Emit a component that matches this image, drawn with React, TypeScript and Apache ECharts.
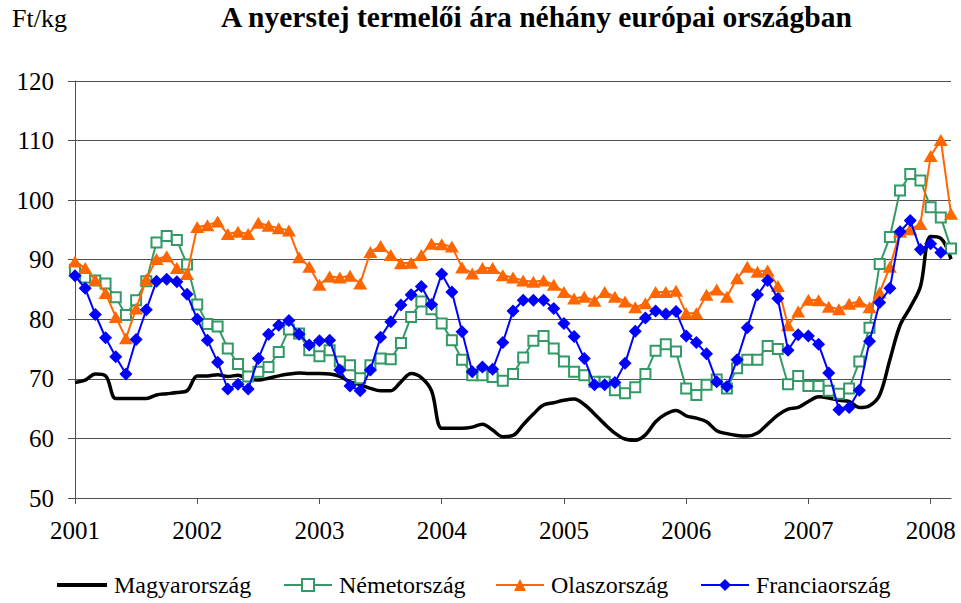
import React, { useEffect, useRef } from "react";
import * as echarts from "echarts";

const years = ["2001", "2002", "2003", "2004", "2005", "2006", "2007", "2008"];
const monthsInYear = ["01", "02", "03", "04", "05", "06", "07", "08", "09", "10", "11", "12"];
const categories: string[] = years
  .flatMap((y) => monthsInYear.map((m) => `${y}-${m}`))
  .slice(0, 87);

const seriesNames = ["Magyarország", "Németország", "Olaszország", "Franciaország"];

const hungary = [
  69.4, 69.8, 70.8, 70.5, 66.7, 66.7, 66.7, 66.7, 67.3, 67.5, 67.7, 68.0,
  70.5, 70.5, 70.7, 70.4, 70.6, 70.0, 69.8, 70.1, 70.5, 70.8, 71.0, 70.9,
  70.9, 70.8, 70.4, 69.5, 69.0, 68.4, 68.0, 68.0, 69.5, 70.9, 70.2, 68.0,
  61.7, 61.7, 61.7, 61.9, 62.4, 61.4, 60.3, 60.5, 62.3, 64.1, 65.6, 66.0,
  66.4, 66.6, 65.7, 64.1, 62.4, 60.9, 59.9, 59.7, 60.6, 62.8, 64.1, 64.7,
  63.8, 63.4, 62.8, 61.3, 60.8, 60.5, 60.4, 60.9, 62.4, 63.9, 64.9, 65.2,
  66.2, 67.0, 66.8, 66.4, 66.2, 65.2, 65.5, 67.3, 73.2, 79.0, 82.0, 85.5,
  93.9, 93.6, 90.1,
];

const germany = [
  88.3, 87.0, 86.5, 86.0, 83.7, 80.7, 83.2, 86.4, 92.9, 94.0, 93.3, 89.2,
  82.5, 79.2, 78.8, 75.1, 72.5, 70.4, 71.2, 72.0, 74.5, 78.3, 77.6, 74.8,
  73.8, 74.8, 72.9, 72.3, 70.1, 72.3, 73.4, 73.3, 76.0, 80.4, 83.0, 81.7,
  79.3, 76.5, 73.2, 70.6, 70.6, 70.3, 69.7, 70.8, 73.6, 76.4, 77.2, 75.1,
  72.9, 71.2, 70.6, 69.5, 69.5, 68.1, 67.6, 68.6, 70.8, 74.7, 75.8, 74.6,
  68.4, 67.3, 69.0, 69.9, 68.4, 71.8, 73.2, 73.2, 75.5, 75.0, 69.1, 70.5,
  68.8, 68.8, 68.0, 67.5, 68.4, 72.9, 78.6, 89.3, 93.8, 101.6, 104.4, 103.3,
  98.8, 97.1, 91.9,
];

const italy = [
  89.7, 88.6, 86.6, 84.4, 80.4, 76.8, 81.8, 86.7, 90.1, 90.6, 88.6, 87.6,
  95.5, 95.8, 96.4, 94.3, 94.7, 94.3, 96.2, 95.7, 95.3, 94.9, 90.4, 88.8,
  85.8, 87.2, 87.0, 87.3, 86.0, 91.3, 92.3, 90.8, 89.4, 89.5, 90.8, 92.7,
  92.6, 92.2, 88.7, 87.7, 88.6, 88.6, 87.4, 87.0, 86.5, 86.3, 86.5, 85.8,
  84.6, 83.5, 83.8, 83.1, 84.6, 83.8, 83.0, 82.0, 82.7, 84.6, 84.6, 84.8,
  81.0, 81.0, 84.1, 85.0, 83.8, 86.9, 88.8, 88.0, 88.2, 85.6, 79.0, 81.3,
  83.3, 83.2, 82.1, 81.7, 82.6, 83.0, 82.0, 84.5, 88.8, 94.7, 95.1, 96.0,
  107.4, 110.1, 97.7,
];

const france = [
  87.3, 85.2, 80.8, 76.9, 73.7, 70.8, 76.6, 81.6, 86.4, 86.7, 86.3, 84.2,
  80.0, 76.5, 72.8, 68.3, 69.1, 68.3, 73.4, 77.5, 79.0, 79.8, 77.5, 75.7,
  76.4, 76.5, 71.5, 68.8, 68.0, 71.5, 77.0, 79.6, 82.4, 84.1, 85.5, 82.5,
  87.6, 84.6, 77.9, 71.2, 72.0, 71.6, 76.1, 81.4, 83.2, 83.2, 83.2, 81.8,
  79.3, 77.1, 73.4, 69.0, 69.0, 69.4, 72.6, 78.0, 80.2, 81.4, 80.9, 81.3,
  77.2, 76.1, 74.2, 69.5, 68.7, 73.2, 78.6, 84.1, 86.5, 83.5, 74.8, 77.4,
  77.2, 75.8, 71.0, 64.8, 65.2, 68.1, 76.3, 82.8, 85.2, 94.7, 96.6, 91.7,
  92.7, 91.2,
];

const FONT = "'Liberation Serif', 'Times New Roman', serif";
const AXIS_COLOR = "#505050";

export default function App() {
  const ref = useRef<HTMLDivElement>(null);

  useEffect(() => {
    if (!ref.current) return;
    const chart = echarts.init(ref.current, null, { renderer: "svg" });
    const legendLefts = [57, 283, 495, 700];
    const legendText = { fontFamily: FONT, fontSize: 24, color: "#000", padding: [0, 0, 0, 2] };
    chart.setOption({
      animation: false,
      backgroundColor: "#ffffff",
      title: {
        text: "A nyerstej termelői ára néhány európai országban",
        left: 221,
        top: 2,
        padding: 0,
        textStyle: { fontFamily: FONT, fontWeight: "bold", fontSize: 29.5, color: "#000" },
      },
      graphic: [
        {
          type: "text",
          left: 12,
          top: 5,
          style: { text: "Ft/kg", font: `26px ${FONT}`, fill: "#000" },
        },
      ],
      legend: seriesNames.map((name, i) =>
        i === 0
          ? {
              data: [{ name, icon: "rect" }],
              left: legendLefts[i],
              top: 573,
              padding: 0,
              itemWidth: 50,
              itemHeight: 4,
              textStyle: legendText,
            }
          : {
              data: [name],
              left: legendLefts[i],
              top: 573,
              padding: 0,
              itemWidth: 48,
              itemHeight: 15,
              textStyle: legendText,
            }
      ),
      grid: { left: 75, right: 10, top: 81, bottom: 105, containLabel: false },
      xAxis: {
        type: "category",
        data: categories,
        boundaryGap: false,
        axisLine: { onZero: false, lineStyle: { color: AXIS_COLOR, width: 1 } },
        axisTick: {
          show: true,
          length: 6,
          interval: (idx: number) => idx % 12 === 0,
          lineStyle: { color: AXIS_COLOR },
        },
        axisLabel: {
          interval: (idx: number) => idx % 12 === 0,
          formatter: (v: string) => (v.endsWith("-01") ? v.slice(0, 4) : ""),
          fontFamily: FONT,
          fontSize: 25,
          color: "#000",
          margin: 20,
        },
        splitLine: { show: false },
      },
      yAxis: {
        type: "value",
        min: 50,
        max: 120,
        interval: 10,
        axisLine: { show: true, lineStyle: { color: AXIS_COLOR, width: 1 } },
        axisTick: { show: true, length: 7, lineStyle: { color: AXIS_COLOR } },
        axisLabel: { fontFamily: FONT, fontSize: 25, color: "#000", margin: 21 },
        splitLine: { show: true, lineStyle: { color: AXIS_COLOR, width: 1 } },
      },
      series: [
        {
          name: seriesNames[0],
          type: "line",
          data: hungary,
          smooth: 0.35,
          symbol: "none",
          color: "#000000",
          lineStyle: { color: "#000000", width: 3.5 },
          z: 2,
        },
        {
          name: seriesNames[1],
          type: "line",
          data: germany,
          symbol: "emptyRect",
          symbolSize: 10,
          showAllSymbol: true,
          color: "#339966",
          lineStyle: { color: "#339966", width: 2 },
          itemStyle: { color: "#339966", borderColor: "#339966", borderWidth: 2 },
          z: 3,
        },
        {
          name: seriesNames[2],
          type: "line",
          data: italy,
          symbol: "triangle",
          symbolSize: [14, 12],
          showAllSymbol: true,
          color: "#FF6600",
          lineStyle: { color: "#FF6600", width: 2 },
          itemStyle: { color: "#FF6600" },
          z: 4,
        },
        {
          name: seriesNames[3],
          type: "line",
          data: france,
          symbol: "diamond",
          symbolSize: 13,
          showAllSymbol: true,
          color: "#0000FF",
          lineStyle: { color: "#0000FF", width: 2 },
          itemStyle: { color: "#0000FF" },
          z: 5,
        },
      ],
    });
    return () => chart.dispose();
  }, []);

  return (
    <div
      ref={ref}
      style={{ position: "fixed", left: 0, top: 0, width: 961, height: 603, background: "#fff" }}
    />
  );
}
